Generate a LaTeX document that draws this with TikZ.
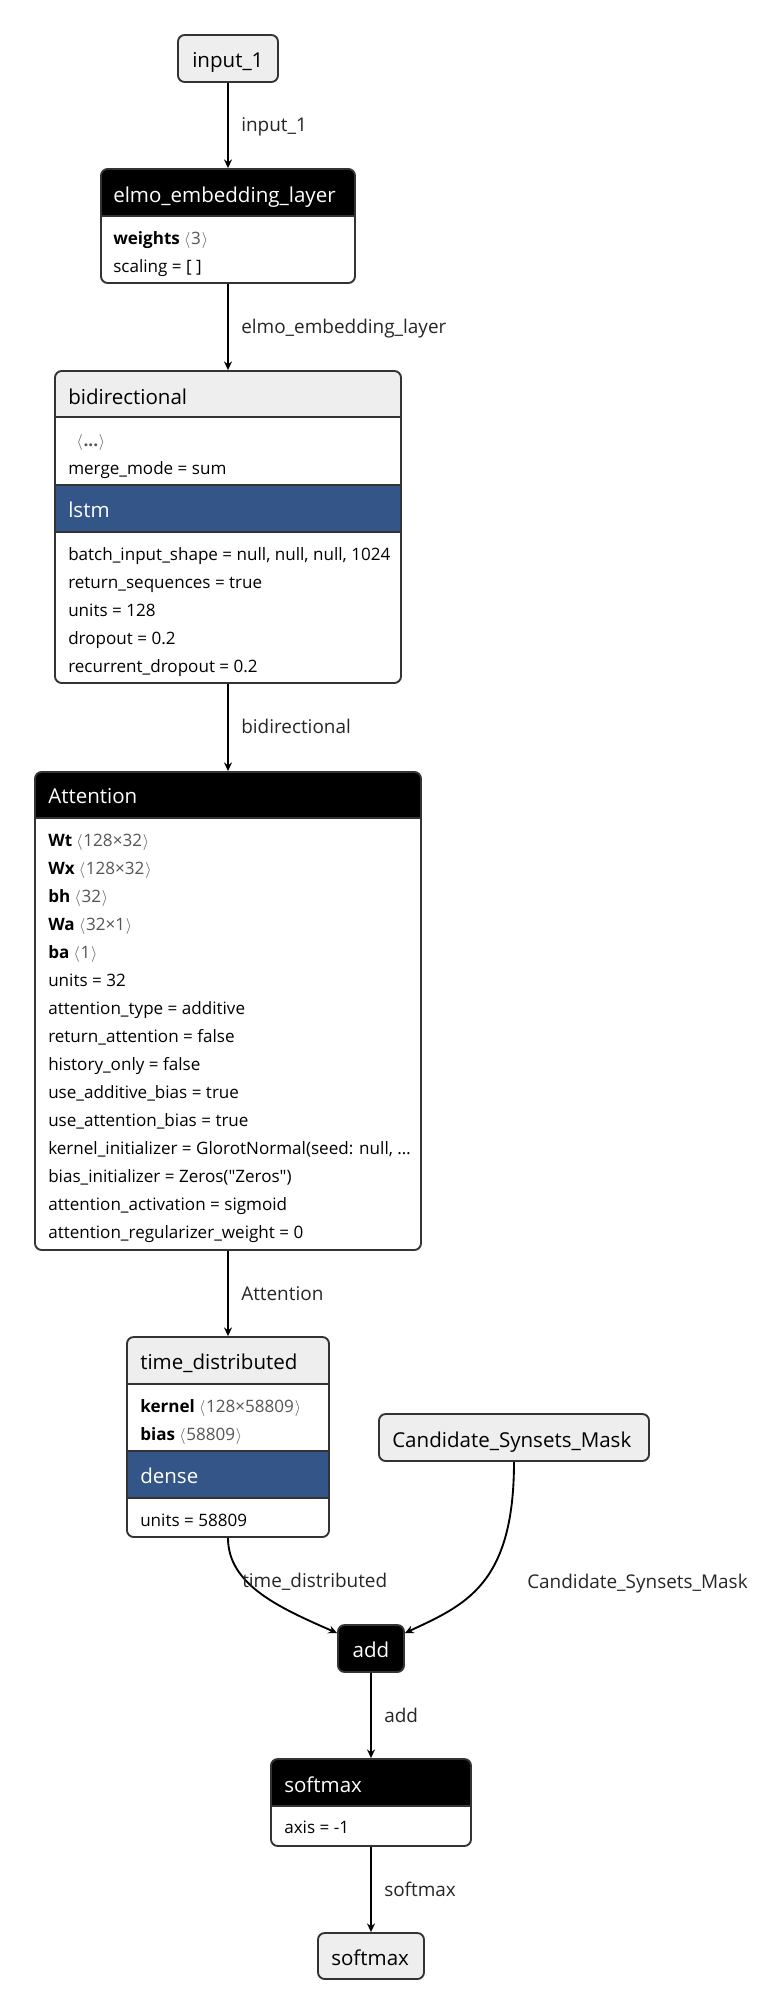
\documentclass[tikz,border=0pt]{standalone}
\usepackage{fontspec}
\setmainfont{Open Sans}
\newfontfamily\qf{Open Sans}
\usetikzlibrary{arrows.meta}
\definecolor{hdrgray}{HTML}{EEEEEE}
\definecolor{layerblue}{HTML}{335588}
\definecolor{framec}{HTML}{333333}
\definecolor{shapec}{HTML}{555555}
\newcommand\shp[1]{\textcolor{shapec}{\hspace{3.2pt}$\langle$\hspace{0.6pt}#1\hspace{0.6pt}$\rangle$}}
\newcommand\clipbox[4]{\clip[rounded corners=5pt] (#1,#2) rectangle (#3,#4);}
\newcommand\lyrnode[5]{%
  \pgfmathsetmacro\fw{(#4-#2)*0.75}\pgfmathsetmacro\fh{(#5-#3)*0.75}%
  \node[lyrframe, minimum width=\fw pt, minimum height=\fh pt] (#1) at ({(#2+#4)/2},{(#3+#5)/2}) {};}
\begin{document}
\begin{tikzpicture}[x=0.75pt,y=-0.75pt,
  lyrframe/.style={draw=framec, line width=1.4pt, rounded corners=5pt, inner sep=0pt},
  sepl/.style={draw=framec, line width=1.4pt},
  hdrtxt/.style={anchor=base west, inner sep=0pt, font=\fontsize{15.4}{18}\selectfont},
  proptxt/.style={anchor=base west, inner sep=0pt, font=\fontsize{12.8}{15}\selectfont},
  elabel/.style={anchor=base west, inner sep=0pt, font=\fontsize{14.2}{17}\selectfont, text=black!85},
  conn/.style={draw=black, line width=1.4pt, -{Stealth[length=6.5pt,width=6pt,inset=2.2pt]}}]
\useasboundingbox (0,0) rectangle (782,2016);
\fill[white] (0,0) rectangle (782,2016);

% ---- input_1
\begin{scope}\clipbox{178}{35}{278}{82}\fill[hdrgray] (178,35) rectangle (278,82);\end{scope}
\lyrnode{in1}{178}{35}{278}{82}
\node[hdrtxt] (in1t) at (192,68) {input\_1};

% ---- elmo_embedding_layer
\begin{scope}\clipbox{101}{169}{355}{283}
\fill[white] (101,169) rectangle (355,283);
\fill[black] (101,169) rectangle (355,216);
\end{scope}
\draw[sepl] (101,216) -- (355,216);
\lyrnode{elmo}{101}{169}{355}{283}
\node[hdrtxt, text=white] (elmot) at (113,202) {elmo\_embedding\_layer};
\node[proptxt] (elmo1) at (113,244) {\textbf{weights}\shp{3}};
\node[proptxt] (elmo2) at (113,272) {scaling = [ ]};

% ---- bidirectional
\begin{scope}\clipbox{55}{371}{401}{683}
\fill[white] (55,371) rectangle (401,683);
\fill[hdrgray] (55,371) rectangle (401,417);
\fill[layerblue] (55,485) rectangle (401,532);
\end{scope}
\draw[sepl] (55,417) -- (401,417);
\draw[sepl] (55,485) -- (401,485);
\draw[sepl] (55,532) -- (401,532);
\lyrnode{bidir}{55}{371}{401}{683}
\node[hdrtxt] (bidirt) at (68,404) {bidirectional};
\node[proptxt] (bid1) at (72,446) {\shp{\textbf{...}}};
\node[proptxt] (bid2) at (68,474) {merge\_mode = sum};
\node[hdrtxt, text=white] (lstmt) at (68,517) {lstm};
\node[proptxt] (bid3) at (68,560) {batch\_input\_shape = null, null, null, 1024};
\node[proptxt] (bid4) at (68,588) {return\_sequences = true};
\node[proptxt] (bid5) at (68,616) {units = 128};
\node[proptxt] (bid6) at (68,644) {dropout = 0.2};
\node[proptxt] (bid7) at (68,672) {recurrent\_dropout = 0.2};

% ---- Attention
\begin{scope}\clipbox{35}{772}{421}{1250}
\fill[white] (35,772) rectangle (421,1250);
\fill[black] (35,772) rectangle (421,818);
\end{scope}
\draw[sepl] (35,818) -- (421,818);
\lyrnode{att}{35}{772}{421}{1250}
\node[hdrtxt, text=white] (attt) at (48,803) {Attention};
\foreach \t [count=\i] in {{\textbf{Wt}\shp{128×32}},{\textbf{Wx}\shp{128×32}},{\textbf{bh}\shp{32}},
  {\textbf{Wa}\shp{32×1}},{\textbf{ba}\shp{1}},{units = 32},{attention\_type = additive},
  {return\_attention = false},{history\_only = false},{use\_additive\_bias = true},
  {use\_attention\_bias = true},{kernel\_initializer = GlorotNormal(seed: null, …},
  {bias\_initializer = Zeros({\qf"}Zeros{\qf"})},{attention\_activation = sigmoid},
  {attention\_regularizer\_weight = 0}}
  \node[proptxt] (att\i) at (48,{818+28*\i}) {\t};

% ---- time_distributed
\begin{scope}\clipbox{127}{1337}{329}{1537}
\fill[white] (127,1337) rectangle (329,1537);
\fill[hdrgray] (127,1337) rectangle (329,1384);
\fill[layerblue] (127,1451) rectangle (329,1498);
\end{scope}
\draw[sepl] (127,1384) -- (329,1384);
\draw[sepl] (127,1451) -- (329,1451);
\draw[sepl] (127,1498) -- (329,1498);
\lyrnode{td}{127}{1337}{329}{1537}
\node[hdrtxt] (tdt) at (140,1369) {time\_distributed};
\node[proptxt] (td1) at (140,1412) {\textbf{kernel}\shp{128×58809}};
\node[proptxt] (td2) at (140,1440) {\textbf{bias}\shp{58809}};
\node[hdrtxt, text=white] (densot) at (140,1483) {dense};
\node[proptxt] (td3) at (140,1526) {units = 58809};

% ---- Candidate_Synsets_Mask
\begin{scope}\clipbox{379}{1414}{649}{1461}\fill[hdrgray] (379,1414) rectangle (649,1461);\end{scope}
\lyrnode{cand}{379}{1414}{649}{1461}
\node[hdrtxt] (candt) at (392,1447) {Candidate\_Synsets\_Mask};

% ---- add
\begin{scope}\clipbox{338}{1625}{404}{1672}\fill[black] (338,1625) rectangle (404,1672);\end{scope}
\lyrnode{add}{338}{1625}{404}{1672}
\node[hdrtxt, text=white, anchor=base] (addt) at (371,1657) {add};

% ---- softmax layer
\begin{scope}\clipbox{271}{1759}{471}{1846}
\fill[white] (271,1759) rectangle (471,1846);
\fill[black] (271,1759) rectangle (471,1806);
\end{scope}
\draw[sepl] (271,1806) -- (471,1806);
\lyrnode{sm}{271}{1759}{471}{1846}
\node[hdrtxt, text=white] (smt) at (284,1792) {softmax};
\node[proptxt] (sm1) at (284,1833) {axis = -1};

% ---- softmax output
\begin{scope}\clipbox{318}{1933}{424}{1979}\fill[hdrgray] (318,1933) rectangle (424,1979);\end{scope}
\lyrnode{out}{318}{1933}{424}{1979}
\node[hdrtxt] (outt) at (331,1965) {softmax};

% ---- connectors
\draw[conn] (in1.south) -- (elmo.north);
\draw[conn] (elmo.south) -- (bidir.north);
\draw[conn] (bidir.south) -- (att.north);
\draw[conn] (att.south) -- (td.north);
\draw[conn] (td.south) .. controls (228,1585) and (280,1608) .. ([yshift=11.6pt]add.west);
\draw[conn] (cand.south) .. controls (514,1585) and (465,1605) .. ([yshift=11.6pt]add.east);
\draw[conn] (add.south) -- (sm.north);
\draw[conn] (sm.south) -- (out.north);

% ---- connector labels
\node[elabel] (l1) at (241,132) {input\_1};
\node[elabel] (l2) at (241,333) {elmo\_embedding\_layer};
\node[elabel] (l3) at (241,733) {bidirectional};
\node[elabel] (l4) at (241,1300) {Attention};
\node[elabel] (l5) at (242,1587) {time\_distributed};
\node[elabel] (l6) at (527,1588) {Candidate\_Synsets\_Mask};
\node[elabel] (l7) at (384,1722) {add};
\node[elabel] (l8) at (384,1896) {softmax};
\end{tikzpicture}
\end{document}
